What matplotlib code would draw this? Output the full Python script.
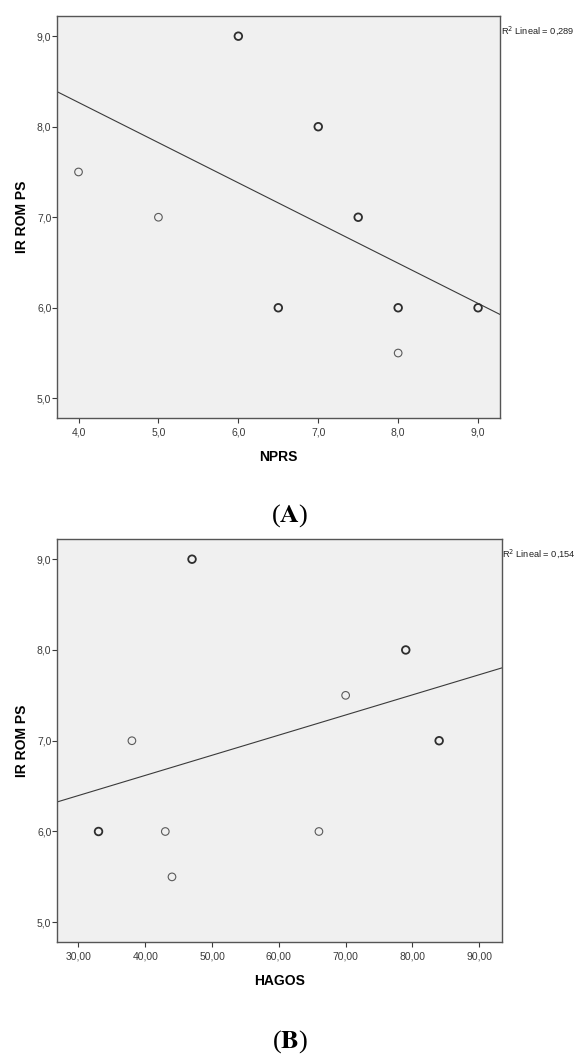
import matplotlib
matplotlib.use("Agg")
import matplotlib.pyplot as plt
import numpy as np

plt.rcParams["font.family"] = ["Liberation Sans", "DejaVu Sans"]

# panel A: NPRS vs IR ROM PS
npars = [4.0, 5.0, 6.0, 6.5, 7.0, 7.5, 8.0, 8.0, 9.0]
rom_a = [7.5, 7.0, 9.0, 6.0, 8.0, 7.0, 6.0, 5.5, 6.0]
mult_a = [1, 1, 2, 2, 2, 2, 2, 1, 2]     # overlapping cases (bold circles)
fit_a = (10.044, -0.444)                 # intercept, slope of the drawn line
r2_a = "0,289"
xticks_a = [4.0, 5.0, 6.0, 7.0, 8.0, 9.0]

# panel B: HAGOS vs IR ROM PS
hagos = [33, 38, 43, 44, 47, 66, 70, 79, 84]
rom_b = [6.0, 7.0, 6.0, 5.5, 9.0, 6.0, 7.5, 8.0, 7.0]
mult_b = [2, 1, 1, 1, 2, 1, 1, 2, 2]
fit_b = (5.731, 0.02218)
r2_b = "0,154"
xticks_b = [30, 40, 50, 60, 70, 80, 90]

yticks = [5.0, 6.0, 7.0, 8.0, 9.0]

DARK = "#3a3a3a"


def panel(fig, rect, x, y, mult, fit, r2, xticks, xlim, xlabel, xfmt):
    ax = fig.add_axes(rect)
    ax.set_facecolor("#f0f0f0")
    x = np.asarray(x, float)
    y = np.asarray(y, float)
    mult = np.asarray(mult)
    for m, lw, col in [(1, 0.8, "#5a5a5a"), (2, 1.3, "#2e2e2e")]:
        sel = mult == m
        ax.scatter(x[sel], y[sel], s=30, facecolors="none",
                   edgecolors=col, linewidths=lw, zorder=3)
    xs = np.array(xlim)
    ax.plot(xs, fit[0] + fit[1] * xs, color=DARK, lw=0.8, zorder=2)
    ax.set_xlim(*xlim)
    ax.set_ylim(4.779, 9.226)
    ax.set_xticks(xticks)
    ax.set_xticklabels([xfmt.format(v).replace(".", ",") for v in xticks])
    ax.set_yticks(yticks)
    ax.set_yticklabels([f"{v:.1f}".replace(".", ",") for v in yticks])
    ax.tick_params(direction="out", length=3.6, width=0.8, color=DARK,
                   labelsize=7.5, labelcolor="#3a3a3a")
    ax.tick_params(axis="x", pad=3.2)
    ax.tick_params(axis="y", pad=0.5)
    for s in ax.spines.values():
        s.set_color("#555555")
        s.set_linewidth(1.0)
    ax.set_xlabel(xlabel, fontsize=10, fontweight="bold", labelpad=9)
    ax.set_ylabel("IR ROM PS", fontsize=10, fontweight="bold", labelpad=6)
    ax.text(1.001, 0.98, f"R$^2$ Lineal = {r2}", transform=ax.transAxes,
            fontsize=6.7, color="#222222", ha="left", va="top")
    return ax


fig = plt.figure(figsize=(5.78, 10.55), dpi=100)
panel(fig, [0.0988, 0.6035, 0.7666, 0.3816], npars, rom_a, mult_a, fit_a,
      r2_a, xticks_a, (3.732, 9.277), "NPRS", "{:.1f}")
panel(fig, [0.0988, 0.1068, 0.7697, 0.3826], hagos, rom_b, mult_b, fit_b,
      r2_b, xticks_b, (26.80, 93.41), "HAGOS", "{:.2f}")

for label, yy in [("A", 1 - 516 / 1055), ("B", 1 - 1042 / 1055)]:
    fig.text(290 / 578, yy, r"($\mathbf{" + label + "}$)", ha="center",
             va="center", fontsize=19, family="Liberation Serif",
             math_fontfamily="stix")

fig.savefig("out.png", dpi=100)
